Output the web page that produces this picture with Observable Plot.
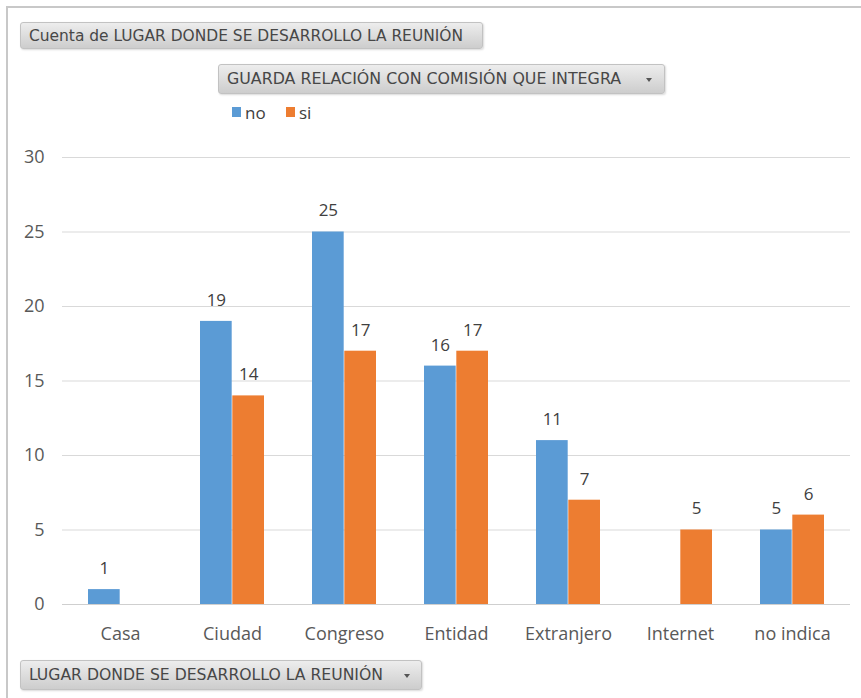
<!DOCTYPE html>
<html><head><meta charset="utf-8">
<script src="https://cdn.jsdelivr.net/npm/d3@7"></script>
<script src="https://cdn.jsdelivr.net/npm/@observablehq/plot@0.6"></script>
<style>
body{margin:0;background:#fff;}
#wrap{position:relative;width:861px;height:698px;overflow:hidden;background:#fff;}
.frame{position:absolute;left:6px;top:6px;right:-4px;bottom:-4px;border-top:2px solid #c8c8c8;border-left:2px solid #c8c8c8;}
.btn{position:absolute;box-sizing:border-box;border:1px solid #c2c2c2;border-radius:3px;background:linear-gradient(#ededed,#cdcdcd);box-shadow:1px 1px 2px rgba(0,0,0,0.15);}
.btn span{position:absolute;top:50%;font-family:"DejaVu Sans Condensed","DejaVu Sans",sans-serif;font-stretch:condensed;font-size:15px;line-height:1;color:#474747;white-space:nowrap;transform-origin:0 50%;}
.arrow{position:absolute;width:0;height:0;border-left:3px solid transparent;border-right:3px solid transparent;border-top:4px solid #555;}
.leg{position:absolute;font-family:"Open Sans",sans-serif;font-size:17px;line-height:1;color:#404040;}
.sw{position:absolute;width:9px;height:10px;}
#chart{position:absolute;left:0;top:130px;}
</style></head>
<body>
<div id="wrap">
  <div class="frame"></div>
  <div class="btn" style="left:20px;top:22px;width:463px;height:27px;"><span data-w="434" style="left:8px;">Cuenta de LUGAR DONDE SE DESARROLLO LA REUNIÓN</span></div>
  <div class="btn" style="left:218px;top:64px;width:447px;height:30px;"><span data-w="394" style="left:8px;">GUARDA RELACIÓN CON COMISIÓN QUE INTEGRA</span><div class="arrow" style="left:427px;top:13px;"></div></div>
  <div class="sw" style="left:232px;top:107px;background:#5B9BD5;"></div>
  <div class="leg" style="left:245px;top:104px;">no</div>
  <div class="sw" style="left:286px;top:107px;background:#ED7D31;"></div>
  <div class="leg" style="left:299px;top:104px;">si</div>
  <div id="chart"></div>
  <div class="btn" style="left:20px;top:660px;width:402px;height:30px;"><span data-w="354" style="left:8px;">LUGAR DONDE SE DESARROLLO LA REUNIÓN</span><div class="arrow" style="left:383px;top:13px;"></div></div>
</div>
<script>
const categories = ["Casa","Ciudad","Congreso","Entidad","Extranjero","Internet","no indica"];
const noValues = [1, 19, 25, 16, 11, null, 5];
const siValues = [null, 14, 17, 17, 7, 5, 6];
const yTicks = [0, 5, 10, 15, 20, 25, 30];

const noData = categories.map((c, i) => ({cat: c, v: noValues[i]})).filter(d => d.v != null);
const siData = categories.map((c, i) => ({cat: c, v: siValues[i]})).filter(d => d.v != null);

const W = 861, ML = 62, MR = 11, PAD = 0.426;
const bw = ((W - ML - MR) / categories.length) * (1 - PAD);

const chart = Plot.plot({
  width: W, height: 520,
  marginLeft: ML, marginRight: MR, marginTop: 27, marginBottom: 46,
  style: {fontFamily: "'Open Sans', sans-serif", fontSize: "18px", color: "#595959", background: "transparent", overflow: "visible"},
  x: {domain: categories, paddingInner: PAD, paddingOuter: PAD / 2, label: null, tickSize: 0, tickPadding: 23},
  y: {domain: [0, 30], ticks: yTicks, label: null, tickSize: 0, tickPadding: 18},
  marks: [
    Plot.ruleY(yTicks.filter(t => t > 0), {stroke: "#d9d9d9", strokeOpacity: 1}),
    Plot.ruleY([0], {stroke: "#cfcfcf", strokeOpacity: 1}),
    Plot.barY(noData, {x: "cat", y: "v", fill: "#5B9BD5", insetRight: bw / 2}),
    Plot.barY(siData, {x: "cat", y: "v", fill: "#ED7D31", insetLeft: bw / 2}),
    Plot.text(noData, {x: "cat", y: "v", text: d => String(d.v), dx: -bw / 4, dy: -21, fill: "#404040", fontSize: 17, lineAnchor: "middle"}),
    Plot.text(siData, {x: "cat", y: "v", text: d => String(d.v), dx: bw / 4, dy: -21, fill: "#404040", fontSize: 17, lineAnchor: "middle"})
  ]
});
document.getElementById("chart").appendChild(chart);

document.querySelectorAll(".btn span").forEach(s => {
  const w = s.getBoundingClientRect().width;
  const k = (+s.dataset.w) / w;
  s.style.transform = `translateY(-50%) scaleX(${k})`;
});
</script>
</body></html>
